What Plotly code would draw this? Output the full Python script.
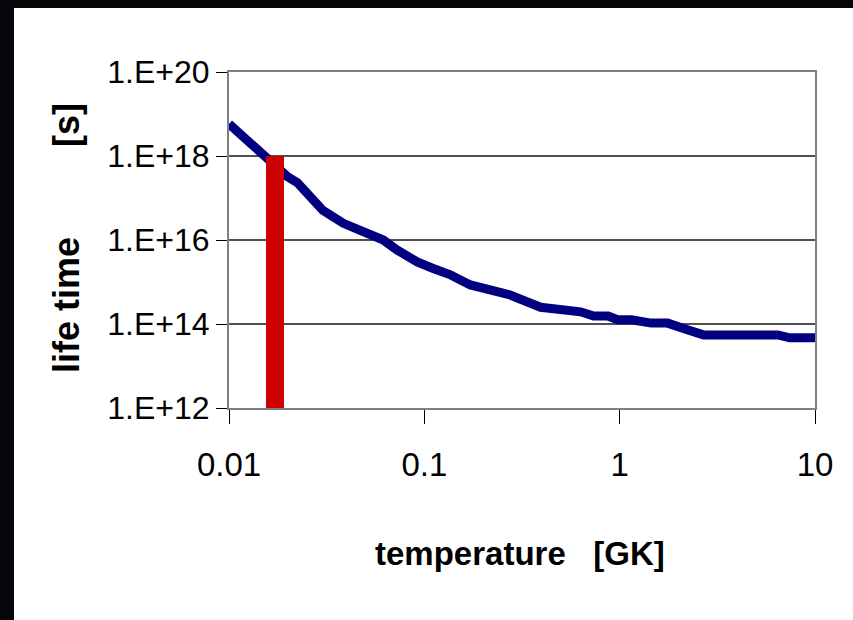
import plotly.graph_objects as go

# data
temperature_GK = [0.0100, 0.0148, 0.0200, 0.0224, 0.0302, 0.0385, 0.0617, 0.0724,
                  0.092, 0.111, 0.135, 0.172, 0.209, 0.254, 0.275, 0.394, 0.631,
                  0.736, 0.871, 0.977, 1.15, 1.45, 1.76, 2.24, 2.51, 2.69, 6.46,
                  7.41, 10.0]
lifetime_s = [5.8e18, 1.05e18, 3.2e17, 2.3e17, 5.1e16, 2.5e16, 1.0e16, 5.8e15,
              3.0e15, 2.1e15, 1.5e15, 8.5e14, 6.8e14, 4.9e14, 4.9e14, 2.5e14,
              1.95e14, 1.55e14, 1.55e14, 1.26e14, 1.26e14, 1.05e14, 1.05e14,
              7.2e13, 6.5e13, 5.5e13, 5.5e13, 4.7e13, 4.7e13]

marker_T = [0.0172, 0.0172]
marker_range = [1e12, 1e18]

x_tickvals = [0.01, 0.1, 1, 10]
x_ticktext = ["0.01", "0.1", "1", "10"]
y_tickvals = [1e12, 1e14, 1e16, 1e18, 1e20]
y_ticktext = ["1.E+12", "1.E+14", "1.E+16", "1.E+18", "1.E+20"]

W, H = 853, 620
L, R, T, B = 229, 38, 72, 212
pw, ph = W - L - R, H - T - B

def px_x(p):
    return (p - L) / pw

def px_y(p):
    return (H - B - p) / ph

FONT = "Liberation Sans, Arial"
DARK = "#07050a"

fig = go.Figure()
fig.add_trace(go.Scatter(x=temperature_GK, y=lifetime_s, mode="lines",
                         line=dict(color="#000080", width=9),
                         hoverinfo="skip", showlegend=False))
fig.add_trace(go.Scatter(x=marker_T, y=marker_range, mode="lines",
                         line=dict(color="#CC0000", width=18),
                         hoverinfo="skip", showlegend=False))

fig.update_layout(
    width=W, height=H,
    margin=dict(l=L, r=R, t=T, b=B),
    paper_bgcolor="white",
    plot_bgcolor="white",
    showlegend=False,
    xaxis=dict(type="log", range=[-2, 1], tickvals=x_tickvals, ticktext=x_ticktext,
               showgrid=False, zeroline=False,
               showline=True, linecolor="#808080", linewidth=2, mirror=True,
               ticks="outside", ticklen=14, tickwidth=1, tickcolor="#000000",
               ticklabelstandoff=12,
               tickfont=dict(family=FONT, size=33, color="black")),
    yaxis=dict(type="log", range=[12, 20], tickvals=y_tickvals, ticktext=y_ticktext,
               showgrid=True, gridcolor="#505050", gridwidth=1.5, zeroline=False,
               showline=True, linecolor="#808080", linewidth=2, mirror=True,
               ticks="outside", ticklen=11, tickwidth=1, tickcolor="#000000",
               tickfont=dict(family=FONT, size=32, color="black")),
    shapes=[
        dict(type="rect", xref="paper", yref="paper", layer="below",
             x0=px_x(-5), x1=px_x(14), y0=px_y(H + 5), y1=px_y(-5),
             fillcolor=DARK, line=dict(width=0)),
        dict(type="rect", xref="paper", yref="paper", layer="below",
             x0=px_x(-5), x1=px_x(W + 5), y0=px_y(8), y1=px_y(-5),
             fillcolor=DARK, line=dict(width=0)),
    ],
    annotations=[
        dict(text="<b>temperature\u00a0\u00a0\u00a0[GK]</b>", xref="paper", yref="paper",
             x=px_x(520), y=px_y(553), xanchor="center", yanchor="middle",
             showarrow=False, font=dict(family=FONT, size=33, color="black")),
        dict(text="<b>life time" + "\u00a0" * 9 + "[s]</b>", xref="paper", yref="paper",
             x=px_x(66), y=px_y(238), xanchor="center", yanchor="middle",
             textangle=-90, showarrow=False,
             font=dict(family=FONT, size=36, color="black")),
    ],
)

fig.write_html("out.html")
